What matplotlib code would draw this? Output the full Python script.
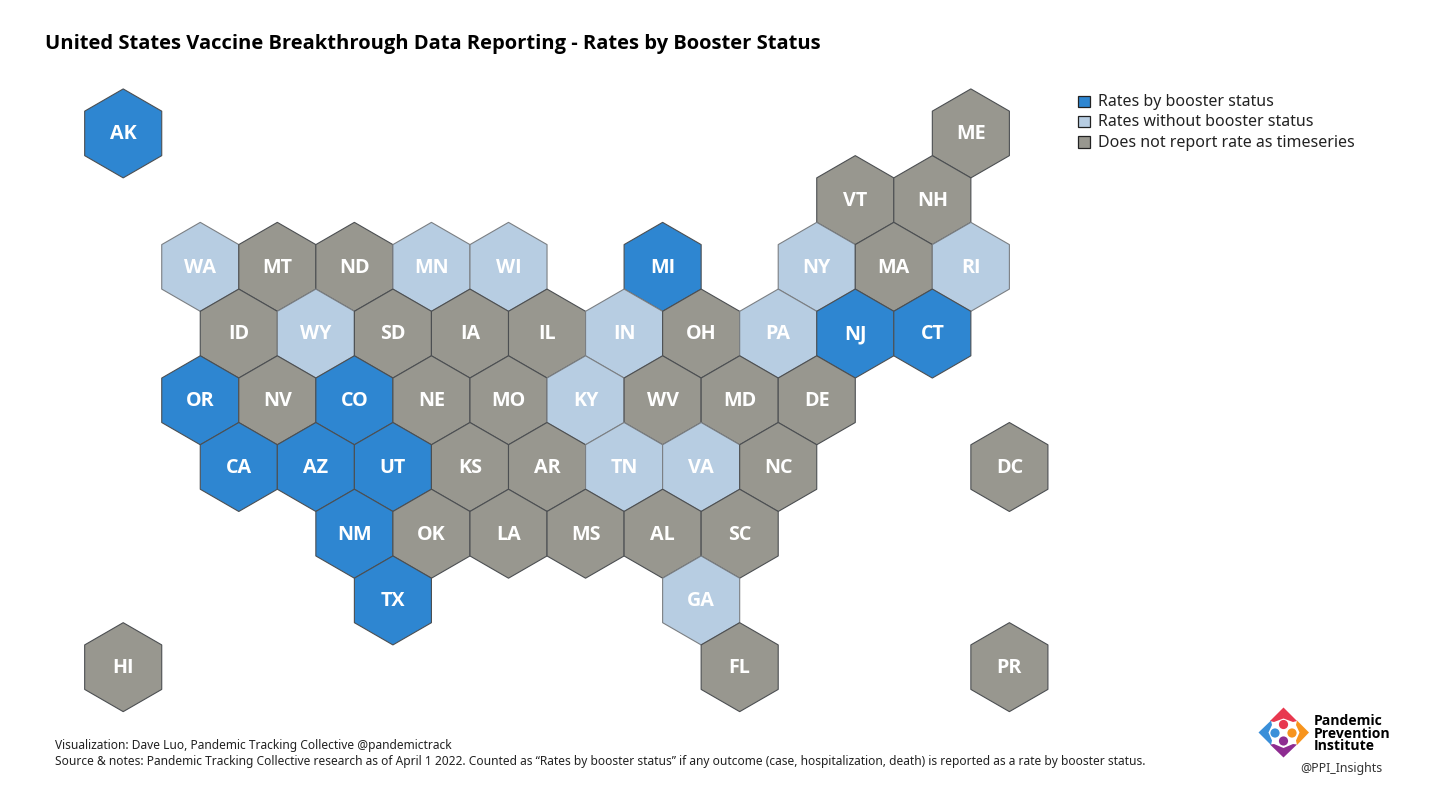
import matplotlib
matplotlib.use("Agg")
import matplotlib.pyplot as plt
from matplotlib.patches import Polygon, Circle, Rectangle

plt.rcParams['font.family'] = ['Noto Sans', 'DejaVu Sans']
BOLD = ['Open Sans', 'DejaVu Sans']

TITLE = "United States Vaccine Breakthrough Data Reporting - Rates by Booster Status"
NOTE_1 = "Visualization: Dave Luo, Pandemic Tracking Collective @pandemictrack"
NOTE_2 = ("Source & notes: Pandemic Tracking Collective research as of April 1 2022. Counted as "
          "\u201cRates by booster status\u201d if any outcome (case, hospitalization, death) is reported as a rate by booster status.")

states = ["AK","ME","VT","NH","WA","MT","ND","MN","WI","MI","NY","MA","RI",
          "ID","WY","SD","IA","IL","IN","OH","PA","NJ","CT",
          "OR","NV","CO","NE","MO","KY","WV","MD","DE",
          "CA","AZ","UT","KS","AR","TN","VA","NC","DC",
          "NM","OK","LA","MS","AL","SC","TX","GA","HI","FL","PR"]
cols = [0,22,19,21,2,4,6,8,10,14,18,20,22,
        3,5,7,9,11,13,15,17,19,21,
        2,4,6,8,10,12,14,16,18,
        3,5,7,9,11,13,15,17,23,
        6,8,10,12,14,16,7,15,0,16,23]
rows = [0,0,1,1,2,2,2,2,2,2,2,2,2,
        3,3,3,3,3,3,3,3,3,3,
        4,4,4,4,4,4,4,4,4,
        5,5,5,5,5,5,5,5,5,
        6,6,6,6,6,6,7,7,8,8,8]
by_booster = ["AK","MI","NJ","CT","OR","CO","CA","AZ","UT","NM","TX"]
without_booster = ["WA","MN","WI","NY","RI","WY","IN","PA","KY","TN","VA","GA"]
legend_labels = ["Rates by booster status", "Rates without booster status", "Does not report rate as timeseries"]

BLUE, LIGHT, GREY = "#2e86d1", "#b7cde2", "#98978f"
W, H = 1440, 793
X0, Y0, DX, DY = 123.2, 133.4, 38.53, 66.72

fig = plt.figure(figsize=(W/100, H/100), dpi=100, facecolor="white")
ax = fig.add_axes([0, 0, 1, 1])
ax.set_xlim(-X0/DX, (W-X0)/DX)
ax.set_ylim((H-Y0)/DY, -Y0/DY)
ax.axis("off")

hex_shape = [(0,-2/3),(1,-1/3),(1,1/3),(0,2/3),(-1,1/3),(-1,-1/3)]
for s, c, r in zip(states, cols, rows):
    color = BLUE if s in by_booster else LIGHT if s in without_booster else GREY
    edge = "#7b7f83" if color == LIGHT else "#4c4f52"
    ax.add_patch(Polygon([(c+a, r+b) for a, b in hex_shape], closed=True,
                         facecolor=color, edgecolor=edge, linewidth=0.8, zorder=2))
    ax.annotate(s, (c, r), xytext=(0, 1.2), textcoords="offset points", ha="center",
                va="center_baseline", color="white", fontsize=14.2, fontweight="bold",
                family=BOLD, zorder=3)

# pixel-space overlay for title, legend, notes and logo
ov = fig.add_axes([0, 0, 1, 1])
ov.set_xlim(0, W); ov.set_ylim(H, 0); ov.axis("off"); ov.patch.set_alpha(0)
ov.text(45, 44, TITLE, fontsize=14.5, fontweight="bold", family=BOLD, color="black", va="center", ha="left")
for lab, col, y, ty in zip(legend_labels, [BLUE, LIGHT, GREY], [101, 121, 141.5], [102, 122, 143]):
    ov.add_patch(Rectangle((1078, y-5.5), 11.5, 11.5, facecolor=col, edgecolor="#222222", linewidth=0.9))
    ov.text(1098, ty, lab, fontsize=11.5, color="#222222", va="center", ha="left")
ov.text(55, 746, NOTE_1, fontsize=8.62, color="#222222", va="center", ha="left")
ov.text(55, 762, NOTE_2, fontsize=8.62, color="#222222", va="center", ha="left")

# logo
R_, O_, B_, P_ = "#e8384f", "#f7941d", "#3a8fd9", "#8e2c91"
ov.add_patch(Polygon([(1283.5,707.5),(1297,721),(1293,722),(1283.5,718.5),(1274,722),(1270,721)], facecolor=R_, edgecolor="none"))
ov.add_patch(Polygon([(1283.5,757.5),(1297,744.5),(1293,744),(1283.5,748),(1274,744),(1270,744.5)], facecolor=P_, edgecolor="none"))
ov.add_patch(Polygon([(1258.5,732.5),(1271,720.5),(1272,725),(1268.5,732.5),(1272,740.5),(1271,745)], facecolor=B_, edgecolor="none"))
ov.add_patch(Polygon([(1309,732.5),(1297,720.5),(1296,725),(1299.5,732.5),(1296,740.5),(1297,745)], facecolor=O_, edgecolor="none"))
for x, y, col in [(1283.5,724.5,R_),(1292,733,O_),(1275,733,B_),(1283.5,741,P_)]:
    ov.add_patch(Circle((x, y), 4.6, facecolor=col, edgecolor="none"))
for y, t in zip([721, 733.5, 746], ["Pandemic", "Prevention", "Institute"]):
    ov.text(1314, y, t, fontsize=10.1, fontweight="bold", family=BOLD, color="black", va="center", ha="left")
ov.text(1341, 768.5, "@PPI_Insights", fontsize=8.85, color="#333333", va="center", ha="center")

fig.savefig("out.png", dpi=100)
